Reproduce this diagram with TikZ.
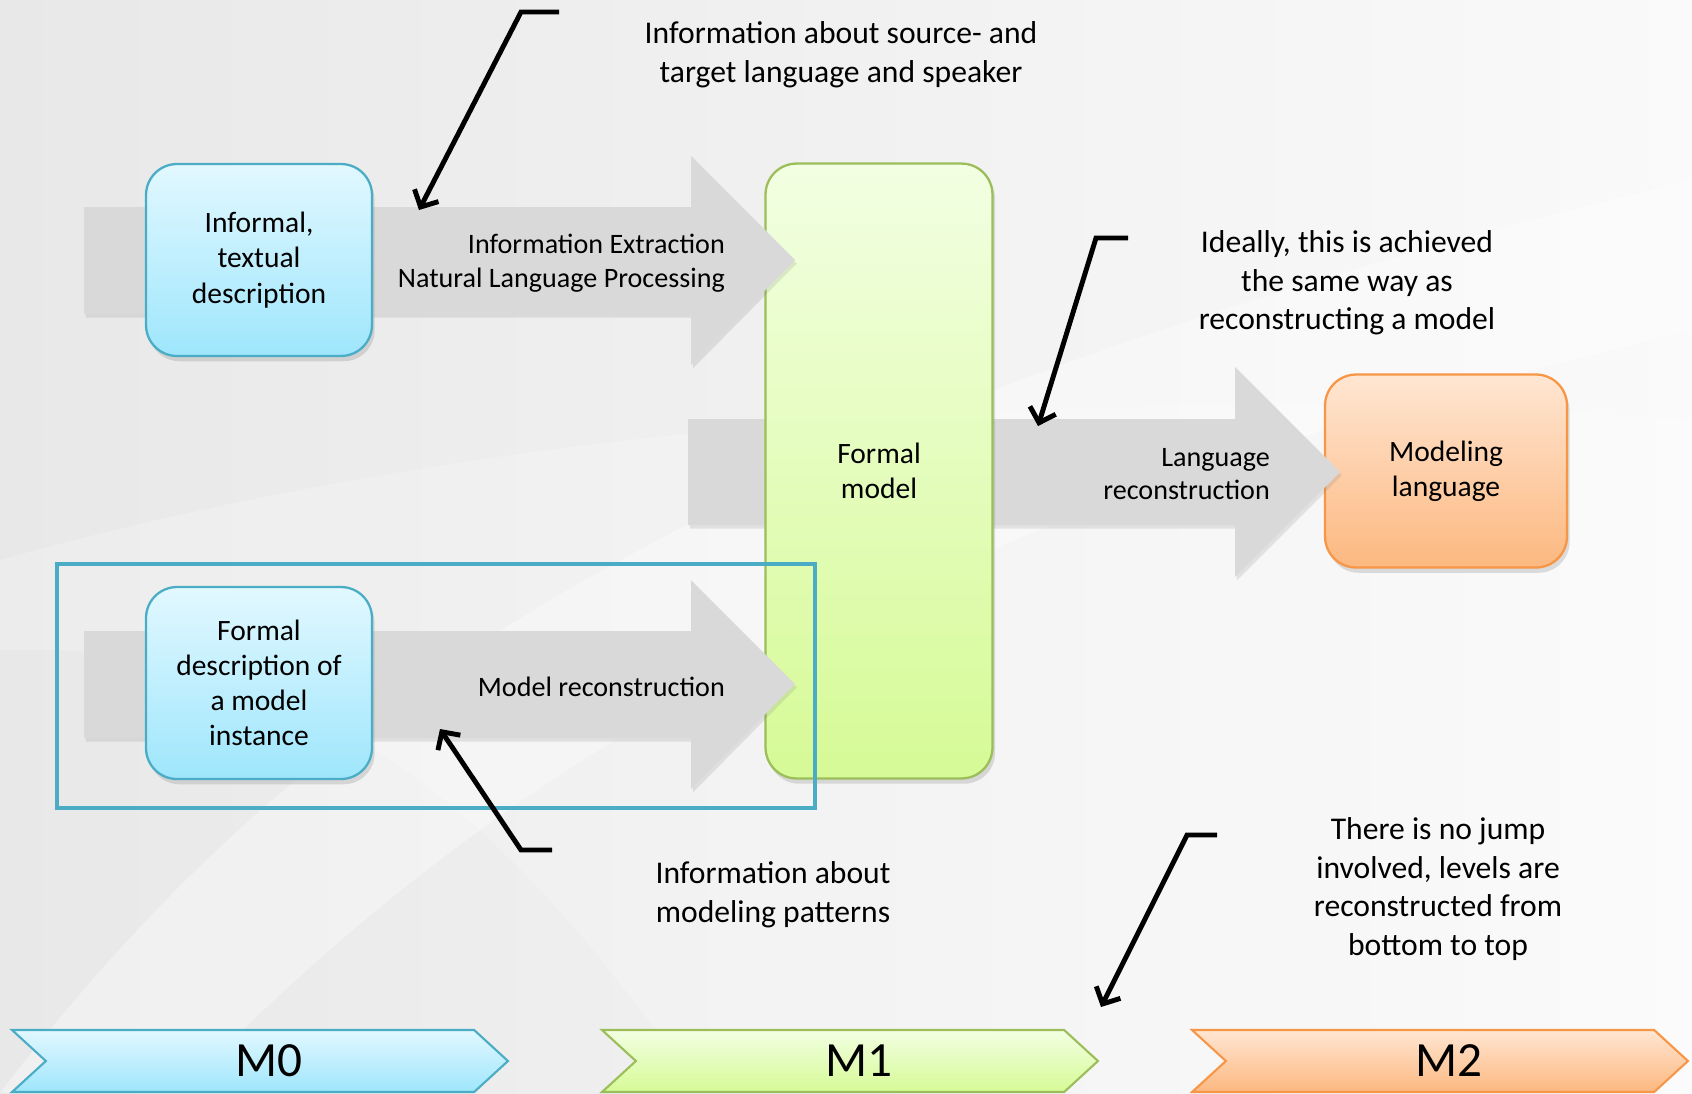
\documentclass[tikz,border=0pt]{standalone}
\usepackage{fontspec}
\setmainfont{Carlito}
\usetikzlibrary{positioning,shapes.symbols,shadows,arrows.meta}

\definecolor{bluetop}{RGB}{226,248,255}
\definecolor{bluebot}{RGB}{158,230,252}
\definecolor{blueline}{RGB}{75,172,198}
\definecolor{greentop}{RGB}{242,255,226}
\definecolor{greenbot}{RGB}{214,250,150}
\definecolor{greenline}{RGB}{155,190,90}
\definecolor{orangetop}{RGB}{255,230,210}
\definecolor{orangebot}{RGB}{252,184,128}
\definecolor{orangeline}{RGB}{247,150,70}
\definecolor{bandgray}{RGB}{217,217,217}

\begin{document}
\begin{tikzpicture}[x=0.02cm, y=-0.02cm, >={Straight Barb[length=2.6mm,width=5.4mm]}]
  \tikzstyle{box}=[draw, rounded corners=0.62cm, line width=1.3pt, align=center,
    font=\fontsize{16.8}{20}\selectfont,
    drop shadow={opacity=0.25, shadow xshift=1.5pt, shadow yshift=-3pt}]
  \tikzstyle{m0box}=[box, draw=blueline, top color=bluetop, bottom color=bluebot,
    minimum width=4.52cm, minimum height=3.84cm]
  \tikzstyle{lvl}=[signal, signal to=east, signal from=west, signal pointer angle=85,
    draw, line width=1.2pt, minimum width=9.92cm, minimum height=1.24cm,
    font=\fontsize{28}{30}\selectfont]
  \tikzstyle{band}=[fill=bandgray, drop shadow={opacity=0.18, shadow xshift=1pt, shadow yshift=-2pt}]
  \tikzstyle{bandtext}=[align=right, anchor=east, yshift=-0.06cm, font=\fontsize{16}{19}\selectfont]
  \tikzstyle{note}=[align=center, yshift=-0.06cm, font=\fontsize{18}{22}\selectfont]
  \tikzstyle{callout}=[->, line width=2.8pt, line join=miter]

  % background
  \useasboundingbox (0,0) rectangle (1692,1093);
  \shade[left color=black!9, right color=black!2] (0,0) rectangle (1692,1093);
  \fill[white, opacity=0.35] (0,1093) .. controls (300,700) and (700,420) .. (1692,180)
    -- (1692,330) .. controls (900,520) and (500,760) .. (180,1093) -- cycle;
  \fill[white, opacity=0.2] (0,560) .. controls (500,420) and (1100,380) .. (1692,420)
    -- (1692,1093) -- (700,1093) .. controls (500,800) and (300,640) .. (0,650) -- cycle;

  % level 2
  \node[box, draw=orangeline, top color=orangetop, bottom color=orangebot,
    minimum width=4.84cm, minimum height=3.86cm] (lang) at (1446,471) {Modeling\\language};

  % level 1
  \fill[band] (688,419) -- (1235,419) -- (1235,367) -- (1340,472) -- (1235,577)
    -- (1235,525) -- (688,525) -- cycle;
  \node[box, draw=greenline, top color=greentop, bottom color=greenbot,
    minimum width=4.54cm, minimum height=12.3cm] (formal) at (879,471) {Formal\\model};

  % level 0
  \foreach \m in {260,684}
    \fill[band] (84,\m-53) -- (691,\m-53) -- (691,\m-104) -- (795,\m) -- (691,\m+105)
      -- (691,\m+54) -- (84,\m+54) -- cycle;
  \node[m0box] (informal) at (259,260) {Informal,\\textual\\description};
  \node[m0box] (instance) at (259,683) {Formal\\description of\\a model\\instance};

  \node[bandtext] (extract) at (731,260) {Information Extraction\\Natural Language Processing};
  \node[bandtext] (modrec) at (731,684) {Model reconstruction};
  \node[bandtext] (langrec) at (1276,471) {Language\\reconstruction};

  \draw[blueline, line width=2.4pt] (57,564) rectangle (815,808);

  % notes
  \node[note] (srcnote) at (841,52) {Information about source- and\\target language and speaker};
  \node[note] (idealnote) at (1347,280) {Ideally, this is achieved\\the same way as\\reconstructing a model};
  \node[note] (patnote) at (773,892) {Information about\\modeling patterns};
  \node[note] (jumpnote) at (1438,886) {There is no jump\\involved, levels are\\reconstructed from\\bottom to top};

  \coordinate (srcknee) at (521,12);
  \coordinate (idealknee) at (1096,238);
  \coordinate (patknee) at (521,850);
  \coordinate (jumpknee) at (1187,835);
  \draw[callout] ([xshift=0.76cm]srcknee) -- (srcknee) -- (419,210);
  \draw[callout] ([xshift=0.64cm]idealknee) -- (idealknee) -- (1038,426);
  \draw[callout] ([xshift=0.62cm]patknee) -- (patknee) -- (440,729);
  \draw[callout] ([xshift=0.60cm]jumpknee) -- (jumpknee) -- (1101,1007);

  % levels
  \node[lvl, draw=blueline, top color=bluetop, bottom color=bluebot] (M0) at (260,1061) {\hspace*{0.35cm}M0};
  \node[lvl, draw=greenline, top color=greentop, bottom color=greenbot] (M1) at (850,1061) {\hspace*{0.35cm}M1};
  \node[lvl, draw=orangeline, top color=orangetop, bottom color=orangebot] (M2) at (1440,1061) {\hspace*{0.35cm}M2};
\end{tikzpicture}
\end{document}
